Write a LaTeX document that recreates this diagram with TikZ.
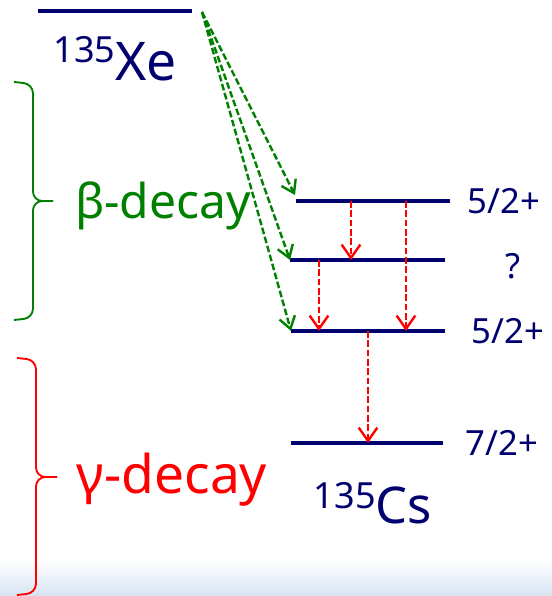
\documentclass[tikz,border=0pt]{standalone}
\usepackage{fontspec}
\setmainfont{Noto Sans}
\usepackage{xcolor}
\usetikzlibrary{arrows.meta,positioning,calc}
\definecolor{navy}{RGB}{0,0,110}
\definecolor{bgreen}{RGB}{0,128,0}
\definecolor{bandblue}{RGB}{214,228,243}

\begin{document}
\begin{tikzpicture}[
    x=0.75pt, y=-0.75pt,
    level/.style={draw=navy, line width=2.5pt},
    spin/.style={text=navy, font=\fontsize{26}{30}\selectfont, anchor=west, inner sep=0pt},
    nucl/.style={text=navy, inner sep=0pt, anchor=base},
    decaytext/.style={inner sep=0pt, anchor=base},
    betaarrow/.style={-{Straight Barb[length=9pt,width=12pt]}, draw=bgreen, line width=1.8pt, dash pattern=on 5pt off 2pt},
    gammaarrow/.style={-{Straight Barb[length=10pt,width=14pt]}, draw=red, line width=1.8pt, dash pattern=on 5pt off 2pt},
    bracket/.style={line width=1.4pt, rounded corners=7pt}
]
\useasboundingbox (0,0) rectangle (552,596);

% Background band
\shade[top color=white, bottom color=bandblue] (0,560) rectangle (552,596);

% Energy levels
\coordinate (xe-a) at (38,11);
\coordinate (xe-b) at (192,11);
\coordinate (l1-a) at (296,201);
\coordinate (l1-b) at (450,201);
\coordinate (l2-a) at (290,260);
\coordinate (l2-b) at (445,260);
\coordinate (l3-a) at (291,331);
\coordinate (l3-b) at (445,331);
\coordinate (l4-a) at (291,443);
\coordinate (l4-b) at (443,443);

\draw[level] (xe-a) -- (xe-b);
\draw[level] (l1-a) -- (l1-b);
\draw[level] (l2-a) -- (l2-b);
\draw[level] (l3-a) -- (l3-b);
\draw[level] (l4-a) -- (l4-b);

% Spins
\node[spin, right=13pt of l1-b] (s1) {5/2+};
\node[spin, right=45pt of l2-b, yshift=-5pt] (s2) {?};
\node[spin, right=20pt of l3-b] (s3) {5/2+};
\node[spin, right=17pt of l4-b] (s4) {7/2+};

% Nuclei
\node[nucl, font=\fontsize{40}{44}\selectfont] (xe) at (115,80)
    {\raisebox{13.5pt}{\fontsize{27}{30}\selectfont 135}Xe};
\node[nucl, font=\fontsize{38}{42}\selectfont] (cs) at (373,523)
    {\raisebox{11pt}{\fontsize{27}{30}\selectfont 135}Cs};

% Beta decay
\coordinate (src) at (202,12);
\draw[betaarrow] (src) -- ($(l1-a)+(-1,-6)$);
\draw[betaarrow] (src) -- (l2-a);
\draw[betaarrow] (src) -- (l3-a);

% Gamma decay
\path (l1-a) -- (l1-b) coordinate[pos=0.357] (g1) coordinate[pos=0.714] (g2);
\path (l2-a) -- (l2-b) coordinate[pos=0.187] (g3);
\path (l3-a) -- (l3-b) coordinate[pos=0.5] (g4);
\draw[gammaarrow] (g1) -- (g1 |- l2-a);
\draw[gammaarrow] (g2) -- (g2 |- l3-a);
\draw[gammaarrow] (g3) -- (g3 |- l3-a);
\draw[gammaarrow] (g4) -- (g4 |- l4-a);

% Braces
\draw[bracket, bgreen] (14,82) -- (33,84) -- (33,201) -- (53,201);
\draw[bracket, bgreen] (53,201) -- (33,201) -- (33,318) -- (14,320);
\node[decaytext, text=bgreen, font=\fontsize{36}{40}\selectfont] (beta) at (163,218) {β-decay};
\draw[bracket, red] (17,358) -- (36,360) -- (36,477) -- (57,477);
\draw[bracket, red] (57,477) -- (36,477) -- (36,593) -- (17,595);
\node[decaytext, text=red, font=\fontsize{40}{44}\selectfont] (gamma) at (172,493) {γ-decay};

\end{tikzpicture}
\end{document}
